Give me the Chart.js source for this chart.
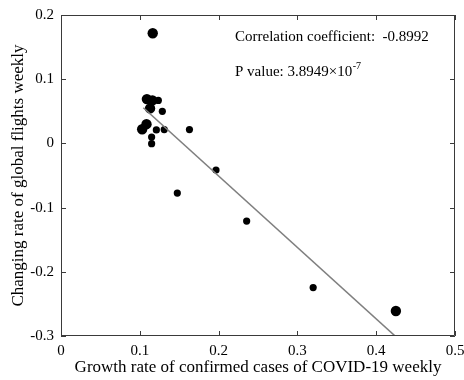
<!DOCTYPE html>
<html>
<head>
<meta charset="utf-8">
<script src="https://cdn.jsdelivr.net/npm/chart.js@4.4.1/dist/chart.umd.min.js"></script>
<style>
  html, body { margin: 0; padding: 0; background: #fff; }
  #wrap { width: 464px; height: 380px; position: relative; }
</style>
</head>
<body>
<div id="wrap"><canvas id="scatter"></canvas></div>
<script>
// ── Weekly COVID-19 case growth vs. change in global flights ──
// weeks drawn with the larger marker
const bigX = [0.1164, 0.1090, 0.1160, 0.1130, 0.1030, 0.1085, 0.4250];
const bigY = [0.1715, 0.0690, 0.0670, 0.0545, 0.0220, 0.0300, -0.2610];
// remaining weeks
const smallX = [0.1235, 0.1286, 0.1210, 0.1310, 0.1630, 0.1150, 0.1150, 0.1967, 0.1476, 0.2356, 0.3200];
const smallY = [0.0670, 0.0500, 0.0210, 0.0215, 0.0215, 0.0098, -0.0005, -0.0415, -0.0773, -0.1210, -0.2245];
// least-squares fit line ends
const fitX = [0.1045, 0.4240];
const fitY = [0.0555, -0.3000];

const xTicks = [0, 0.1, 0.2, 0.3, 0.4, 0.5];
const yTicks = [-0.3, -0.2, -0.1, 0, 0.1, 0.2];

const corrLabel = 'Correlation coefficient:  -0.8992';
const pLabel = 'P value: 3.8949\u00d710';
const pExponent = '-7';

const SERIF = '"Liberation Serif", "Times New Roman", serif';
const toPts = (xs, ys) => xs.map((x, i) => ({ x, y: ys[i] }));

// box frame with inward ticks on all four sides
const frameTicks = {
  id: 'frameTicks',
  afterDraw(chart) {
    const { ctx, chartArea: a, scales: { x, y } } = chart;
    const L = 5;
    ctx.save();
    ctx.strokeStyle = '#3a3a3a';
    ctx.lineWidth = 1;
    ctx.beginPath();
    ctx.rect(Math.round(a.left) + 0.5, Math.round(a.top) + 0.5,
      Math.round(a.width) - 1, Math.round(a.height) - 1);
    xTicks.forEach(v => {
      const px = Math.round(x.getPixelForValue(v)) + 0.5;
      ctx.moveTo(px, a.bottom); ctx.lineTo(px, a.bottom - L);
      ctx.moveTo(px, a.top); ctx.lineTo(px, a.top + L);
    });
    yTicks.forEach(v => {
      const py = Math.round(y.getPixelForValue(v)) + 0.5;
      ctx.moveTo(a.left, py); ctx.lineTo(a.left + L, py);
      ctx.moveTo(a.right, py); ctx.lineTo(a.right - L, py);
    });
    ctx.stroke();

    // statistics text
    ctx.fillStyle = '#000';
    ctx.textBaseline = 'alphabetic';
    ctx.font = '15px ' + SERIF;
    const tx = x.getPixelForValue(0.2208);
    ctx.fillText(corrLabel, tx, y.getPixelForValue(0.160));
    const py = y.getPixelForValue(0.1055);
    ctx.fillText(pLabel, tx, py);
    const w = ctx.measureText(pLabel).width;
    ctx.font = '10px ' + SERIF;
    ctx.fillText(pExponent, tx + w + 0.5, py - 7);
    ctx.restore();
  }
};

new Chart(document.getElementById('scatter'), {
  type: 'scatter',
  data: {
    datasets: [
      {
        label: 'fit',
        data: toPts(fitX, fitY),
        showLine: true,
        borderColor: '#7f7f7f',
        borderWidth: 1.6,
        pointRadius: 0,
        order: 0
      },
      {
        label: 'large',
        data: toPts(bigX, bigY),
        backgroundColor: '#000',
        borderColor: '#000',
        pointRadius: 5.2,
        borderWidth: 0,
        order: 1
      },
      {
        label: 'small',
        data: toPts(smallX, smallY),
        backgroundColor: '#000',
        borderColor: '#000',
        pointRadius: 3.6,
        borderWidth: 0,
        order: 1
      }
    ]
  },
  options: {
    responsive: true,
    maintainAspectRatio: false,
    animation: false,
    layout: { padding: { left: 0, top: 15, right: 9, bottom: 0 } },
    plugins: { legend: { display: false }, tooltip: { enabled: false } },
    scales: {
      x: {
        type: 'linear',
        min: 0, max: 0.5,
        afterBuildTicks: s => { s.ticks = xTicks.map(v => ({ value: v })); },
        afterFit: s => { s.height = 44; s.paddingLeft = 0; s.paddingRight = 0; },
        grid: { display: false, drawTicks: false },
        border: { display: false },
        ticks: {
          color: '#000', padding: 6, maxRotation: 0,
          font: { family: SERIF, size: 15 },
          callback: v => String(v)
        },
        title: {
          display: true,
          text: 'Growth rate of confirmed cases of COVID-19 weekly',
          color: '#000',
          font: { family: SERIF, size: 17 },
          padding: { top: 0, bottom: 2 }
        }
      },
      y: {
        type: 'linear',
        min: -0.3, max: 0.2,
        afterBuildTicks: s => { s.ticks = yTicks.map(v => ({ value: v })); },
        afterFit: s => { s.width = 61; s.paddingTop = 0; s.paddingBottom = 0; },
        grid: { display: false, drawTicks: false },
        border: { display: false },
        ticks: {
          color: '#000', padding: 7,
          font: { family: SERIF, size: 15 },
          callback: v => String(v)
        },
        title: {
          display: true,
          text: 'Changing rate of global flights weekly',
          color: '#000',
          font: { family: SERIF, size: 17 },
          padding: { top: 8, bottom: 0 }
        }
      }
    }
  },
  plugins: [frameTicks]
});
</script>
</body>
</html>
